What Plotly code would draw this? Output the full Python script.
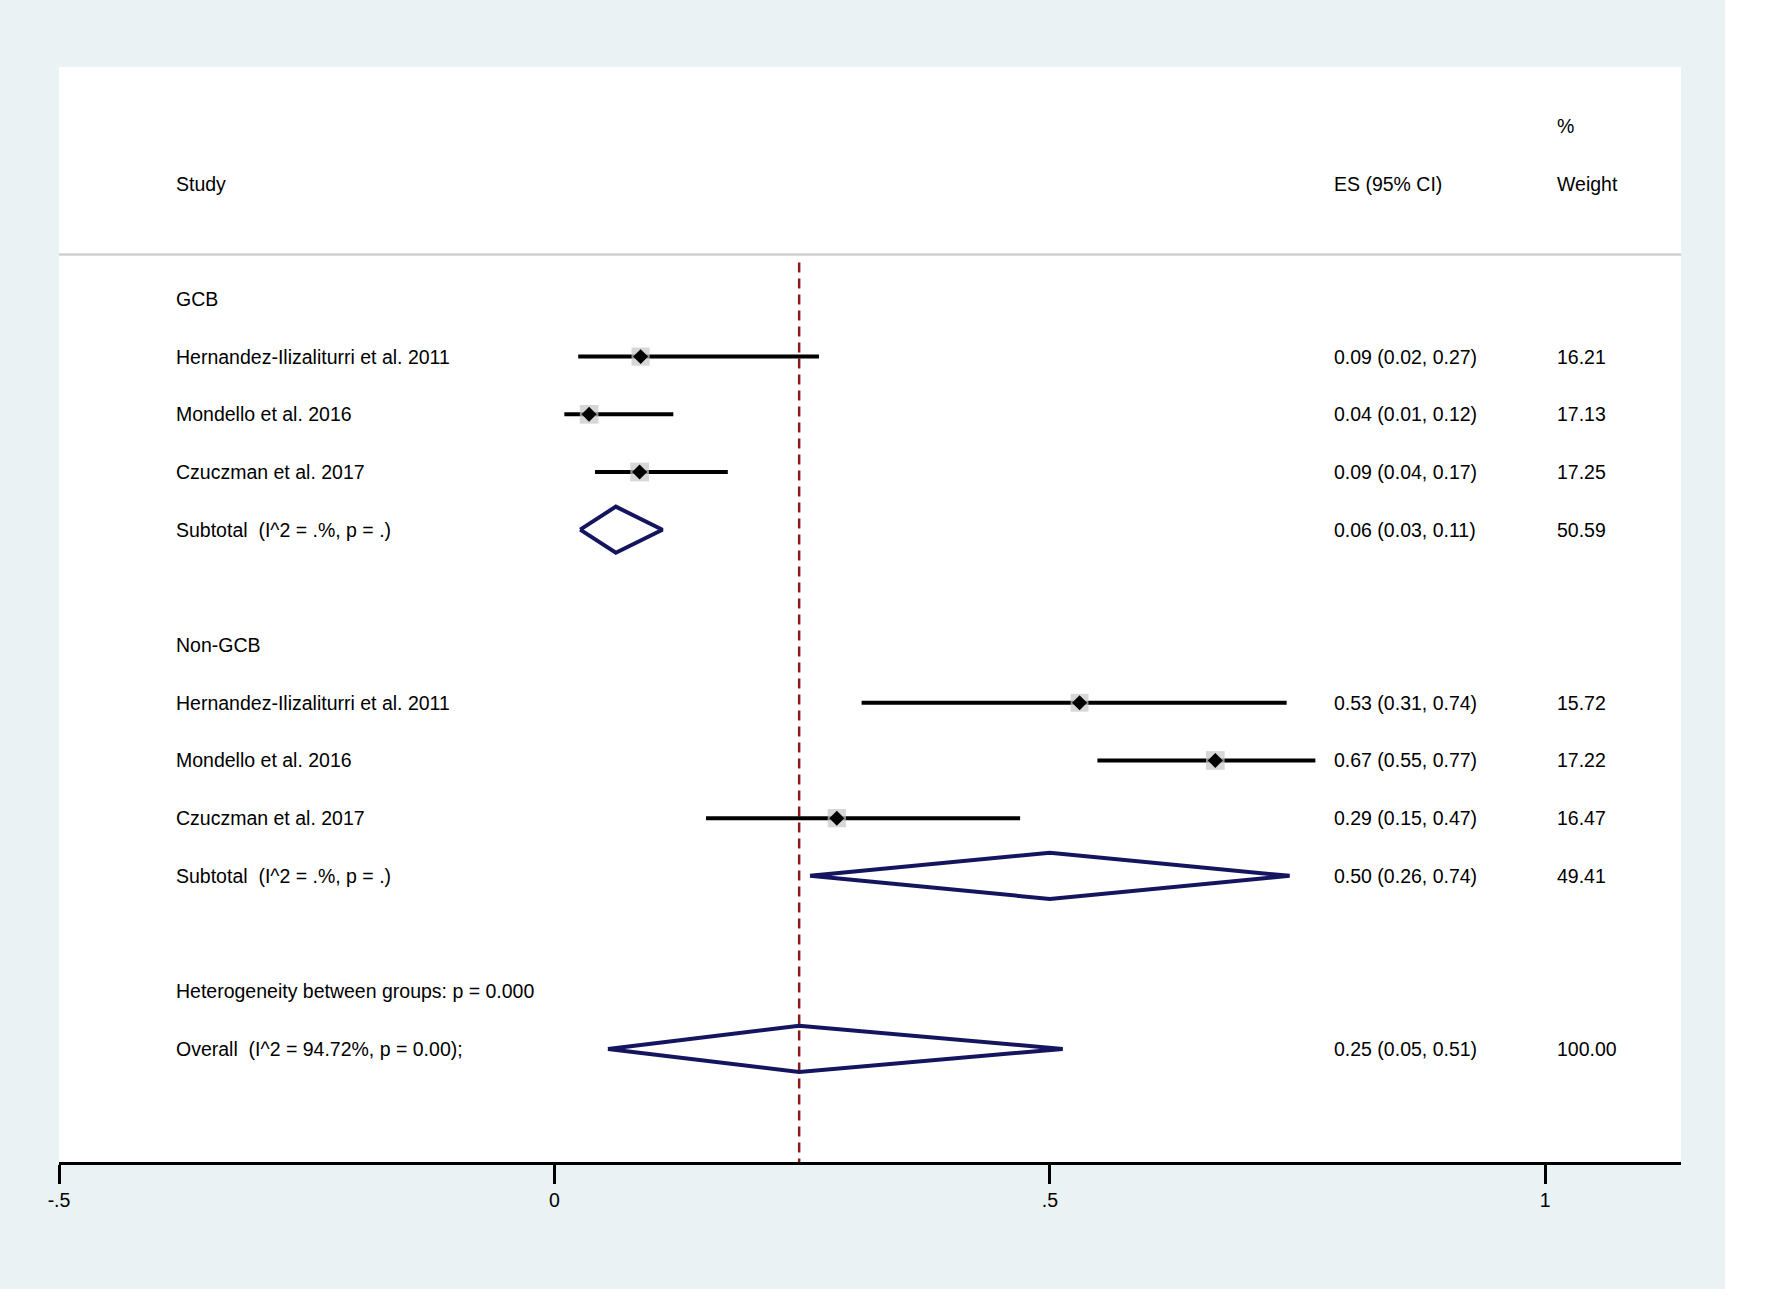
import plotly.graph_objects as go

# studies (row position in the table, label, estimate, lower, upper, weight)
study_rows = [3, 4, 5, 9, 10, 11]
study_names = ["Hernandez-Ilizaliturri et al. 2011", "Mondello et al. 2016", "Czuczman et al. 2017",
               "Hernandez-Ilizaliturri et al. 2011", "Mondello et al. 2016", "Czuczman et al. 2017"]
# plotted values (the labels are rounded)
study_es = [0.087, 0.035, 0.086, 0.530, 0.667, 0.285]
study_lo = [0.024, 0.010, 0.041, 0.310, 0.548, 0.153]
study_hi = [0.267, 0.120, 0.175, 0.739, 0.768, 0.470]
study_wt = [16.21, 17.13, 17.25, 15.72, 17.22, 16.47]
study_text = ["0.09 (0.02, 0.27)", "0.04 (0.01, 0.12)", "0.09 (0.04, 0.17)",
              "0.53 (0.31, 0.74)", "0.67 (0.55, 0.77)", "0.29 (0.15, 0.47)"]

# pooled estimates (diamonds)
pool_rows = [6, 12, 15]
pool_names = ["Subtotal\u00a0 (I^2 = .%, p = .)", "Subtotal\u00a0 (I^2 = .%, p = .)",
              "Overall\u00a0 (I^2 = 94.72%, p = 0.00);"]
pool_es = [0.062, 0.50, 0.247]
pool_lo = [0.026, 0.258, 0.054]
pool_hi = [0.109, 0.742, 0.513]
pool_text = ["0.06 (0.03, 0.11)", "0.50 (0.26, 0.74)", "0.25 (0.05, 0.51)"]
pool_wt = ["50.59", "49.41", "100.00"]

# other labels in the study column
extra_rows = [2, 8, 14]
extra_names = ["GCB", "Non-GCB", "Heterogeneity between groups: p = 0.000"]

tick_vals = [-0.5, 0, 0.5, 1]
tick_text = ["-.5", "0", ".5", "1"]

col_study = -0.384
col_es = 0.7847
col_wt = 1.0094

FONT = "Liberation Sans, Arial, sans-serif"
NAVY = "#15155f"

fig = go.Figure()

# confidence interval lines
for r, lo, hi in zip(study_rows, study_lo, study_hi):
    fig.add_trace(go.Scatter(x=[lo, hi], y=[r, r], mode="lines",
                             line=dict(color="black", width=4), showlegend=False, hoverinfo="skip"))

# weight boxes
fig.add_trace(go.Scatter(x=study_es, y=study_rows, mode="markers",
                         marker=dict(symbol="square", color="#c6c6c6",
                                     size=[w ** 0.5 * 4.5 for w in study_wt], line=dict(width=0)),
                         showlegend=False, hoverinfo="skip"))
# point estimates
fig.add_trace(go.Scatter(x=study_es, y=study_rows, mode="markers",
                         marker=dict(symbol="diamond", color="black", size=11.5, line=dict(width=0)),
                         showlegend=False))

# pooled diamonds
h = 0.4
for r, es, lo, hi in zip(pool_rows, pool_es, pool_lo, pool_hi):
    fig.add_trace(go.Scatter(x=[lo, es, hi, es, lo], y=[r, r - h, r, r + h, r], mode="lines",
                             line=dict(color=NAVY, width=4), showlegend=False, hoverinfo="skip"))

# overall estimate line
fig.add_shape(type="line", x0=pool_es[2], x1=pool_es[2], y0=1.37, y1=16.96, xref="x", yref="y",
              line=dict(color="#8b1a1a", width=2.5, dash="10px,6px"), layer="below")

# header separator
fig.add_shape(type="line", x0=0, x1=1, xref="paper", y0=1.23, y1=1.23, yref="y",
              line=dict(color="#d0d0d0", width=2.5))


def label(x, y, text):
    fig.add_annotation(x=x, y=y, xref="x", yref="y", text=text, showarrow=False,
                       xanchor="left", yanchor="middle", font=dict(family=FONT, size=19.5, color="black"))


# header
label(col_study, 0, "Study")
label(col_es, 0, "ES (95% CI)")
label(col_wt, 0, "Weight")
label(col_wt, -1, "%")

for r, t in zip(extra_rows, extra_names):
    label(col_study, r, t)
for r, n, t, w in zip(study_rows, study_names, study_text, study_wt):
    label(col_study, r, n)
    label(col_es, r, t)
    label(col_wt, r, f"{w:.2f}")
for r, n, t, w in zip(pool_rows, pool_names, pool_text, pool_wt):
    label(col_study, r, n)
    label(col_es, r, t)
    label(col_wt, r, w)

fig.update_layout(
    width=1725, height=1289,
    margin=dict(l=59, r=44, t=67, b=127),
    paper_bgcolor="#eaf2f3", plot_bgcolor="white",
    xaxis=dict(range=[-0.5, 1.137], tickvals=tick_vals, ticktext=tick_text,
               showgrid=False, zeroline=False, showline=True, linecolor="black", linewidth=3,
               ticks="outside", ticklen=19, tickwidth=3, tickcolor="black",
               tickfont=dict(family=FONT, size=19.5, color="black")),
    yaxis=dict(range=[16.96, -2.02], visible=False, showgrid=False, zeroline=False),
)

fig.write_html("out.html", config={"displayModeBar": False},
               post_script="document.body.style.margin='0';")
